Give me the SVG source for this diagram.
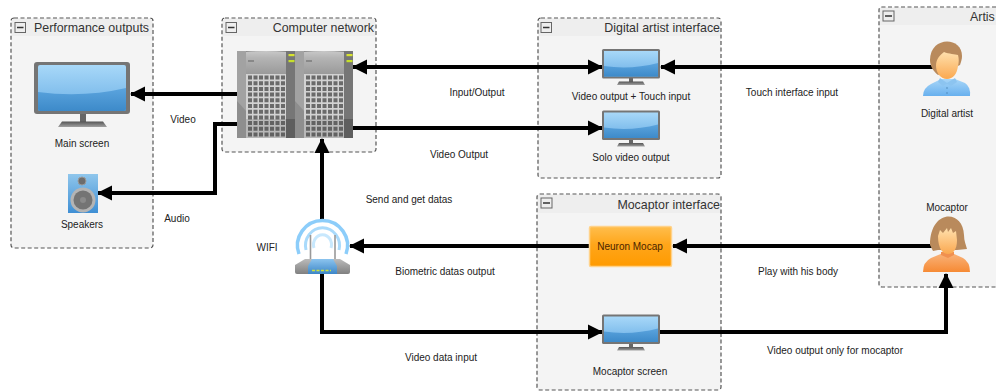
<svg xmlns="http://www.w3.org/2000/svg" width="996" height="391" viewBox="0 0 996 391">
<style>
.grp{fill:#f4f4f4;stroke:#555;stroke-width:1.2;stroke-dasharray:4 2.500}
.hdr{fill:#eee}
.minus{fill:#eee;stroke:#666;stroke-width:1}
.dash{stroke:#333;stroke-width:1.500}
.title{font:12.400px "Liberation Sans",Arial,sans-serif;fill:#333}
.t{font:10px "Liberation Sans",Arial,sans-serif;fill:#222;text-anchor:middle}
.c{fill:none;stroke:#000;stroke-width:4}
</style>
<defs>
<marker id="ah" markerUnits="userSpaceOnUse" markerWidth="16" markerHeight="16" refX="14" refY="8" orient="auto-start-reverse"><path d="M0 0.500L15 8L0 15.500Z" fill="#000"/></marker>
<linearGradient id="scr" x1="0" y1="0" x2="0" y2="1"><stop offset="0" stop-color="#a8d8f8"/><stop offset="1" stop-color="#6cb0e6"/></linearGradient>
<linearGradient id="scr2" x1="0" y1="0" x2="0" y2="1"><stop offset="0" stop-color="#5ba4de"/><stop offset="1" stop-color="#3d8ac9"/></linearGradient>
<linearGradient id="st" x1="0" y1="0" x2="0" y2="1"><stop offset="0" stop-color="#555"/><stop offset="1" stop-color="#a0a0a0"/></linearGradient>
<linearGradient id="org" x1="0" y1="0" x2="0" y2="1"><stop offset="0" stop-color="#ffbe4d"/><stop offset=".45" stop-color="#ffa61a"/><stop offset="1" stop-color="#ff9a00"/></linearGradient>
<linearGradient id="top" x1="0" y1="0" x2="0" y2="1"><stop offset="0" stop-color="#c8c8c8"/><stop offset=".3" stop-color="#b4b4b4"/><stop offset="1" stop-color="#9a9a9a"/></linearGradient>
<linearGradient id="spk" x1="0" y1="0" x2="0" y2="1"><stop offset="0" stop-color="#8fc6ec"/><stop offset="1" stop-color="#3f8fd4"/></linearGradient>
<linearGradient id="face" x1="0" y1="0" x2="0" y2="1"><stop offset="0" stop-color="#ffe0ad"/><stop offset="1" stop-color="#faa850"/></linearGradient>
<linearGradient id="blu" x1="0" y1="0" x2="0" y2="1"><stop offset="0" stop-color="#a8d6f8"/><stop offset="1" stop-color="#68b0ee"/></linearGradient>
<linearGradient id="orb" x1="0" y1="0" x2="0" y2="1"><stop offset="0" stop-color="#f9b47c"/><stop offset="1" stop-color="#f68a34"/></linearGradient>
<linearGradient id="rt" x1="0" y1="0" x2="0" y2="1"><stop offset="0" stop-color="#bbb"/><stop offset="1" stop-color="#808080"/></linearGradient>
<linearGradient id="rb" x1="0" y1="0" x2="0" y2="1"><stop offset="0" stop-color="#8cc4ee"/><stop offset="1" stop-color="#3c86c8"/></linearGradient>
<g id="mon">
<rect x="27" y="29" width="4" height="4" fill="#666"/><path d="M15 36l2-3.500h24l2 3.500z" fill="url(#st)"/>
<rect x="0" y="0" width="58" height="29.500" rx="1.500" fill="#757575"/>
<rect x="2" y="2" width="54" height="25.500" fill="url(#scr)"/>
<path d="M2 17q27 4 54-3v13.500H2z" fill="url(#scr2)"/>
</g>
<g id="rack">
<rect x="0" y="0" width="58" height="87" fill="#8b8b8b"/>
<path d="M0 0h9v87H0z" fill="#a2a2a2"/><path d="M0 50l9 10v27H0z" fill="#8e8e8e"/>
<path d="M9 1q20-2 40 0v22H9z" fill="url(#top)"/>
<rect x="11" y="9" width="6" height="2" fill="#888"/>
<rect x="9" y="23" width="40" height="64" fill="#d2d2d2"/>
<path d="M13 24.500V87M18.500 24.500V87M24 24.500V87M29.500 24.500V87M35 24.500V87M40.500 24.500V87M46 24.500V87" stroke="#6a6a6a" stroke-width="4" stroke-dasharray="4 1.700" fill="none"/>
<path d="M9 68h40v19H9z" fill="#444" opacity=".18"/>
<rect x="49" y="0" width="9" height="87" fill="#767676"/>
<rect x="49" y="68" width="9" height="19" fill="#5e5e5e"/>
<rect x="51.500" y="3" width="6" height="2.200" fill="#d8e42e"/><rect x="51.500" y="9" width="6" height="2.200" fill="#c6e02a"/>
</g>
</defs>
<rect width="996" height="391" fill="#fff"/>

<g id="performance-outputs">
<rect class="grp" x="11" y="18" width="142" height="230" rx="3"/><rect class="hdr" x="12" y="19" width="140" height="17"/>
<rect class="minus" x="15" y="22.500" width="10.500" height="10"/><path class="dash" d="M17 27.500h6.500"/>
<text class="title" x="34" y="32">Performance outputs</text>
</g>
<g id="computer-network">
<rect class="grp" x="222" y="18" width="154" height="134" rx="3"/><rect class="hdr" x="223" y="19" width="152" height="17"/>
<rect class="minus" x="226" y="22.500" width="10.500" height="10"/><path class="dash" d="M228 27.500h6.500"/>
<text class="title" x="374" y="32" text-anchor="end">Computer network</text>
</g>
<g id="digital-artist-interface">
<rect class="grp" x="538" y="18" width="183" height="160" rx="3"/><rect class="hdr" x="539" y="19" width="181" height="17"/>
<rect class="minus" x="541" y="22.500" width="10.500" height="10"/><path class="dash" d="M543 27.500h6.500"/>
<text class="title" x="720" y="32" text-anchor="end">Digital artist interface</text>
</g>
<g id="artist">
<path class="grp" d="M996 7H882q-3 0-3 3V284q0 3 3 3H996"/><rect class="hdr" x="880" y="8" width="116" height="17"/>
<rect class="minus" x="883" y="11" width="11" height="10"/><path class="dash" d="M885 16h7"/>
<text class="title" x="970" y="21">Artis</text>
</g>
<g id="mocaptor-interface">
<rect class="grp" x="537" y="194" width="184" height="196" rx="3"/><rect class="hdr" x="538" y="195" width="182" height="18"/>
<rect class="minus" x="541" y="198" width="11" height="10"/><path class="dash" d="M543 203h7"/>
<text class="title" x="720" y="209" text-anchor="end">Mocaptor interface</text>
</g>

<g id="connectors">
<path class="c" d="M237 94H131" marker-end="url(#ah)"/>
<path class="c" d="M237 124H215V193H98" marker-end="url(#ah)"/>
<path class="c" d="M353 67H602" marker-start="url(#ah)" marker-end="url(#ah)"/>
<path class="c" d="M353 128H602" marker-end="url(#ah)"/>
<path class="c" d="M935 67H661" marker-end="url(#ah)"/>
<path class="c" d="M322 220V139" marker-end="url(#ah)"/>
<path class="c" d="M589 246H350" marker-end="url(#ah)"/>
<path class="c" d="M933 246H673" marker-end="url(#ah)"/>
<path class="c" d="M322 270V332H602" marker-end="url(#ah)"/>
<path class="c" d="M659 332H946V274" marker-end="url(#ah)"/>
</g>

<g id="main-screen">
<rect x="80" y="114" width="6" height="8" fill="#666"/><path d="M58 127l4-5.500h41l4 5.500z" fill="url(#st)"/>
<rect x="34" y="62" width="96" height="52" rx="3" fill="#757575"/>
<rect x="38" y="65" width="88" height="46" rx="2" fill="url(#scr)"/>
<path d="M38 92q45 6 88-4v21q0 2-2 2H40q-2 0-2-2z" fill="url(#scr2)"/>
<text class="t" x="82" y="147">Main screen</text>
</g>
<g id="speakers">
<rect x="68" y="174" width="30" height="39" fill="url(#spk)"/>
<circle cx="82" cy="181" r="4" fill="#6d6d6d" stroke="#9a9a9a"/>
<circle cx="83" cy="200" r="12.500" fill="#b4b4b4"/><circle cx="83" cy="200" r="9.500" fill="#747474"/><circle cx="83" cy="200" r="3" fill="#8a8a8a"/>
<text class="t" x="82" y="228">Speakers</text>
</g>
<g id="servers">
<use href="#rack" x="237" y="51"/><use href="#rack" x="295" y="51"/>
</g>
<g id="video-output-touch-input">
<use href="#mon" x="602" y="49"/>
<text class="t" x="631" y="100">Video output + Touch input</text>
</g>
<g id="solo-video-output">
<use href="#mon" x="602" y="110.500"/>
<text class="t" x="631" y="161">Solo video output</text>
</g>
<g id="digital-artist">
<path d="M923 96q0-8 8-12l10-5h14l10 4q6 4 5 13z" fill="url(#blu)"/>
<path d="M940 78l7 5 8-5 2 4-6 4-4-2-4 2-5-4z" fill="#8cc4f0"/>
<circle cx="947" cy="88" r=".8" fill="#4f88b8"/><circle cx="947" cy="93" r=".8" fill="#4f88b8"/>
<path d="M930 60c0-24 32-24 32-4 0 3-1 6-2 9l-22 10c-5-4-8-9-8-15z" fill="#b98a5c"/>
<path d="M936 66c0-7 4-11 8-14 5 2 11 2 14 3 1 4 1 7 0 11-1 8-5 13-11 13s-11-6-11-13z" fill="url(#face)"/>
<text class="t" x="947" y="117">Digital artist</text>
</g>
<g id="mocaptor">
<text class="t" x="947" y="211">Mocaptor</text>
<path d="M923 272q0-10 8-14l12-5h9l11 5q7 4 7 14z" fill="url(#orb)"/>
<path d="M941 252h13v3l-6 3-7-3z" fill="#f09050"/>
<path d="M930 245c0-36 33-36 34-10 0 6 2 10 3 14l-10 1h-19l-5 1z" fill="#b98a5c"/>
<path d="M938 236l2-6 3 3 4-5 1 4 3-4 2 5 3-2 1 9c0 10-4 14-9 14s-10-5-10-18z" fill="url(#face)"/>
</g>
<g id="wifi">
<path d="M299 254a25 25 0 1 1 47 0" fill="none" stroke="#8ccdfa" stroke-width="3.500"/>
<path d="M306 250a17 18 0 1 1 33 0" fill="none" stroke="#a9dafb" stroke-width="3"/>
<path d="M314 248a9 10 0 1 1 17 0" fill="none" stroke="#c8e8fd" stroke-width="3"/>
<path d="M310.500 235v25M335 235v25" stroke="#999" stroke-width="1.600"/>
<path d="M305 259h35l10 6v7q0 2-2 2h-51q-2 0-2-2v-7z" fill="url(#rt)"/>
<path d="M312 259h21l4 7v8h-29v-8z" fill="url(#rb)"/>
<path d="M312 270.500h19" stroke="#cde23c" stroke-width="1.500" stroke-dasharray="3 1.500"/>
<text class="t" x="267" y="251">WIFI</text>
</g>
<g id="neuron-mocap">
<rect x="589.500" y="226.500" width="82" height="40" rx="1.500" fill="url(#org)" stroke="#ffd28a" stroke-width="1.500"/>
<text class="t" x="630" y="250" style="fill:#4a2400">Neuron Mocap</text>
</g>
<g id="mocaptor-screen">
<use href="#mon" x="602" y="314.500"/>
<text class="t" x="630" y="375">Mocaptor screen</text>
</g>

<g id="labels">
<text class="t" x="183" y="123">Video</text>
<text class="t" x="177" y="222">Audio</text>
<text class="t" x="477" y="96">Input/Output</text>
<text class="t" x="459" y="158">Video Output</text>
<text class="t" x="792" y="96">Touch interface input</text>
<text class="t" x="409" y="203">Send and get datas</text>
<text class="t" x="445" y="275">Biometric datas output</text>
<text class="t" x="798" y="275">Play with his body</text>
<text class="t" x="441" y="361">Video data input</text>
<text class="t" x="835" y="354">Video output only for mocaptor</text>
</g>
</svg>
